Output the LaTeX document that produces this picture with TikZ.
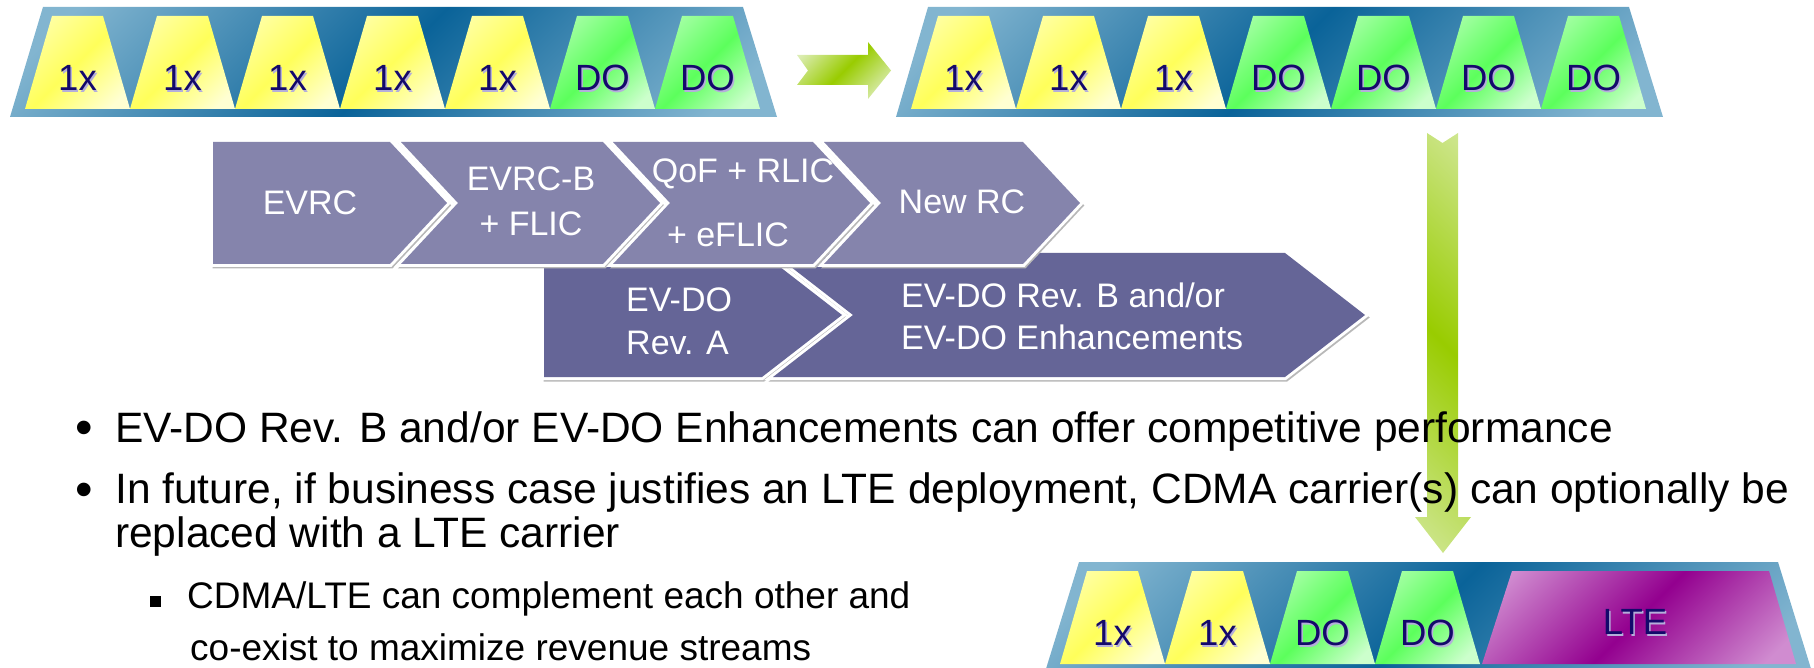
\documentclass[tikz,border=0pt]{standalone}
\usepackage{fontspec}
\setmainfont{Liberation Sans}

\definecolor{bandlt}{HTML}{82B5D0}
\definecolor{banddk}{HTML}{0A6399}
\definecolor{ylpale}{HTML}{FFFFD2}
\definecolor{ylmid}{HTML}{FFFF5A}
\definecolor{yllt}{HTML}{FFFFA8}
\definecolor{grpale}{HTML}{CCFFCC}
\definecolor{grmid}{HTML}{5CFF5C}
\definecolor{grlt}{HTML}{A8FFA8}
\definecolor{ltept}{HTML}{D08CD0}
\definecolor{ltemid}{HTML}{93008F}
\definecolor{arrlt}{HTML}{DCEDB4}
\definecolor{arrmid}{HTML}{99CC00}
\definecolor{chevtop}{HTML}{8584AC}
\definecolor{chevbot}{HTML}{656597}
\definecolor{lbltxt}{HTML}{14096B}
\definecolor{lblsh}{HTML}{B4AEDA}

% diagonal gradients: light corners, saturated diagonal
\pgfdeclareverticalshading{bandsh}{100bp}{color(0bp)=(bandlt); color(20bp)=(bandlt); color(50bp)=(banddk); color(80bp)=(bandlt); color(100bp)=(bandlt)}
\pgfdeclareverticalshading{yelsh}{100bp}{color(0bp)=(ylpale); color(22bp)=(ylpale); color(50bp)=(ylmid); color(78bp)=(yllt); color(100bp)=(yllt)}
\pgfdeclareverticalshading{grnsh}{100bp}{color(0bp)=(grpale); color(22bp)=(grpale); color(50bp)=(grmid); color(78bp)=(grlt); color(100bp)=(grlt)}
\pgfdeclareverticalshading{ltesh}{100bp}{color(0bp)=(ltept); color(20bp)=(ltept); color(50bp)=(ltemid); color(80bp)=(ltept); color(100bp)=(ltept)}
\pgfdeclareverticalshading{arrsh}{100bp}{color(0bp)=(arrlt); color(22bp)=(arrlt); color(50bp)=(arrmid); color(78bp)=(arrlt); color(100bp)=(arrlt)}
\pgfdeclareverticalshading{varrsh}{100bp}{color(0bp)=(arrlt); color(8bp)=(arrlt); color(50bp)=(arrmid); color(92bp)=(arrlt); color(100bp)=(arrlt)}

\tikzset{
  band/.style={shade, shading=bandsh, shading angle=45},
  yeltrap/.style={shade, shading=yelsh, shading angle=45},
  grntrap/.style={shade, shading=grnsh, shading angle=45},
  ltetrap/.style={shade, shading=ltesh, shading angle=45},
  lbl/.style={text=lbltxt, font=\fontsize{36.5}{40}\selectfont, inner sep=0},
  lblshadow/.style={text=lblsh, font=\fontsize{36.5}{40}\selectfont, inner sep=0},
  chevshape/.style={
    preaction={fill=black!28, draw=black!28, line width=4, transform canvas={shift={(1.5,2.5)}}},
    preaction={draw=white, line width=6},
  },
  chevT/.style={chevshape, fill=chevtop},
  chevB/.style={chevshape, fill=chevbot},
  chevtxt/.style={text=white, font=\fontsize{34}{45}\selectfont, inner sep=0},
  btxt/.style={font=\fontsize{42.5}{44}\selectfont, anchor=base west, inner sep=0},
  bdot/.style={font=\fontsize{50}{50}\selectfont, anchor=base, inner sep=0},
  stxt/.style={font=\fontsize{37}{44}\selectfont, anchor=base west, inner sep=0},
}

\begin{document}
\begin{tikzpicture}[x=1pt,y=-1pt]
\useasboundingbox (0,0) rectangle (1814,668);

% ---------- carrier bands ----------
\path[band] (43,7) -- (743,7) -- (777,117) -- (10,117) -- cycle;
\path[band] (928,7) -- (1629,7) -- (1663,117) -- (896,117) -- cycle;
\path[band] (1079,562) -- (1778,562) -- (1812,672) -- (1045,672) -- cycle;

% band 1: five 1x carriers and two DO carriers
\foreach \k/\t/\s in {0/1x/yeltrap,1/1x/yeltrap,2/1x/yeltrap,3/1x/yeltrap,4/1x/yeltrap,5/DO/grntrap,6/DO/grntrap}{
  \pgfmathsetmacro{\bl}{25+105*\k}
  \path[\s] (\bl+27,16) -- (\bl+78,16) -- (\bl+105,109) -- (\bl,109) -- cycle;
  \node[lblshadow] at (\bl+54,79.5) {\t};
  \node[lbl] (ca\k) at (\bl+52.5,78) {\t};
}
% band 2: three 1x carriers and four DO carriers
\foreach \k/\t/\s in {0/1x/yeltrap,1/1x/yeltrap,2/1x/yeltrap,3/DO/grntrap,4/DO/grntrap,5/DO/grntrap,6/DO/grntrap}{
  \pgfmathsetmacro{\bl}{911+105*\k}
  \path[\s] (\bl+27,16) -- (\bl+78,16) -- (\bl+105,109) -- (\bl,109) -- cycle;
  \node[lblshadow] at (\bl+54,79.5) {\t};
  \node[lbl] (cb\k) at (\bl+52.5,78) {\t};
}
% band 3: two 1x, two DO and one LTE carrier
\foreach \k/\t/\s in {0/1x/yeltrap,1/1x/yeltrap,2/DO/grntrap,3/DO/grntrap}{
  \pgfmathsetmacro{\bl}{1060+105*\k}
  \path[\s] (\bl+27,571) -- (\bl+78,571) -- (\bl+105,664) -- (\bl,664) -- cycle;
  \node[lblshadow] at (\bl+54,634.5) {\t};
  \node[lbl] (cc\k) at (\bl+52.5,633) {\t};
}
\path[ltetrap] (1512,571) -- (1769,571) -- (1796,664) -- (1482,664) -- cycle;
\node[lblshadow] at (1636.5,623.5) {LTE};
\node[lbl] (lte) at (1635,622) {LTE};

% ---------- migration arrows ----------
\path[shade, shading=arrsh, shading angle=45]
  (797,55) -- (868,55) -- (868,42) -- (891,70.5) -- (868,99) -- (868,85) -- (797,85) -- (808,70.5) -- cycle;
\path[shade, shading=varrsh, shading angle=-45]
  (1427,133) -- (1442.5,143) -- (1458,133) -- (1458,517) -- (1471,517) -- (1443,553) -- (1415,517) -- (1427,517) -- cycle;

% ---------- roadmap chevrons ----------
% data path (lower row)
\path[chevB] (544,253) -- (762,253) -- (842,315) -- (762,377) -- (544,377) -- cycle;
\path[chevB] (773,253) -- (1285,253) -- (1365,315) -- (1285,377) -- (773,377) -- (853,315) -- cycle;
\node[chevtxt, anchor=west, align=left, font=\fontsize{34}{43}\selectfont] (reva) at (626,321.5) {EV-DO\\Rev. A};
\node[chevtxt, anchor=west, align=left, font=\fontsize{34}{42}\selectfont] (revb) at (901,316) {EV-DO Rev. B and/or\\EV-DO Enhancements};

% voice path (upper row)
\path[chevT] (213,142) -- (390,142) -- (447,203) -- (390,264) -- (213,264) -- cycle;
\path[chevT] (401,142) -- (603,142) -- (660,203) -- (603,264) -- (401,264) -- (458,203) -- cycle;
\path[chevT] (613,142) -- (813,142) -- (870,203) -- (813,264) -- (613,264) -- (670,203) -- cycle;
\path[chevT] (824,142) -- (1023,142) -- (1080,203) -- (1023,264) -- (824,264) -- (881,203) -- cycle;
\node[chevtxt] (evrc) at (310,203) {EVRC};
\node[chevtxt, align=center] (evrcb) at (531,201.5) {EVRC-B\\+ FLIC};
\node[chevtxt] (qof) at (743,174) {QoF + RLIC};
\node[chevtxt] (eflic) at (728,235) {+ eFLIC};
\node[chevtxt] (newrc) at (962,202) {New RC};

% ---------- bullet text ----------
\node[bdot] (dot1) at (84,444) {•};
\node[btxt] (b1) at (115,442) {EV-DO Rev. B and/or EV-DO Enhancements can offer competitive performance};
\node[bdot] (dot2) at (84,506) {•};
\node[btxt] (b2a) at (115,503) {In future, if business case justifies an LTE deployment, CDMA carrier(s) can optionally be};
\node[btxt] (b2b) at (115,547) {replaced with a LTE carrier};
\node[fill=black, minimum size=10.5, inner sep=0] (sq) at (155.5,601.5) {};
\node[stxt] (s1) at (187,608) {CDMA/LTE can complement each other and};
\node[stxt] (s2) at (190,660) {co-exist to maximize revenue streams};
\end{tikzpicture}
\end{document}
